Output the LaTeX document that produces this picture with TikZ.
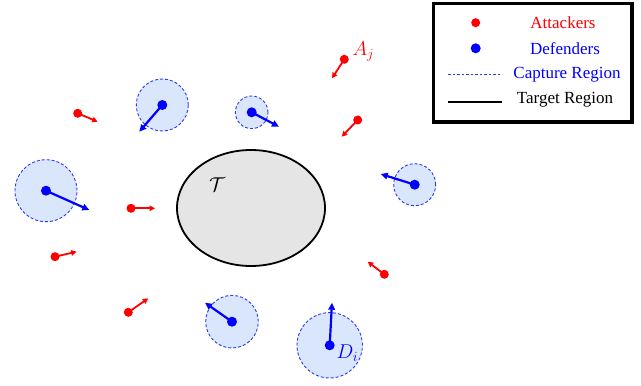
\RequirePackage{fix-cm}
\documentclass[tikz,border=0pt]{standalone}
\usepackage{fontspec}
\setmainfont{Liberation Serif}
\usetikzlibrary{arrows.meta,shapes.geometric}
\definecolor{capfill}{RGB}{218,230,252}
\definecolor{capline}{RGB}{40,60,240}
\begin{document}
\begin{tikzpicture}[x=1pt,y=-1pt,
  adot/.style={circle,fill=red,inner sep=0pt,minimum size=9pt},
  ddot/.style={circle,fill=blue,inner sep=0pt,minimum size=10pt},
  aarrow/.style={red,line width=1.8pt,-{Triangle[length=5.5pt,width=5.5pt]}},
  darrow/.style={blue,line width=2.2pt,-{Triangle[length=7pt,width=6.5pt]}},
  capture/.style={circle,draw=capline,fill=capfill,dash pattern=on 3pt off 2pt,line width=0.9pt,inner sep=0pt},
  lbl/.style={font=\fontsize{17}{20}\selectfont},
  mlbl/.style={font=\fontsize{20}{24}\selectfont}
]
\useasboundingbox (0,0) rectangle (641,386);
\fill[white] (0,0) rectangle (641,386);

% target
\node[draw=black,line width=1.8pt,fill=black!10,ellipse,minimum width=148pt,minimum height=116pt,inner sep=0pt] (tgt) at (251,208) {};
\node[mlbl] (tlab) at (217,185) {$\mathcal{T}$};

% capture regions
\node[capture,minimum size=52pt] (c1) at (162.3,105) {};
\node[capture,minimum size=62pt] (c2) at (46,190.7) {};
\node[capture,minimum size=32.6pt] (c3) at (251.7,112.3) {};
\node[capture,minimum size=42pt] (c4) at (414.7,184.7) {};
\node[capture,minimum size=52.6pt] (c5) at (232,321.7) {};
\node[capture,minimum size=65.4pt] (c6) at (329.7,345.3) {};

% defenders
\node[ddot] (d1) at (162.3,105) {};
\node[ddot] (d2) at (46,190.7) {};
\node[ddot] (d3) at (251.7,112.3) {};
\node[ddot] (d4) at (414.7,184.7) {};
\node[ddot] (d5) at (232,321.7) {};
\node[ddot] (d6) at (329.7,345.3) {};
\coordinate (d1t) at (139.3,131.7);
\coordinate (d2t) at (89.3,210);
\coordinate (d3t) at (279,126.7);
\coordinate (d4t) at (380.7,174);
\coordinate (d5t) at (205,302.7);
\coordinate (d6t) at (332,302.7);
\foreach \i in {1,...,6} \draw[darrow] (d\i.center) -- (d\i t);
\node[mlbl,blue,anchor=west] (dlab) at (333,353) {$D_i$};

% attackers
\node[adot] (a1) at (344.3,59.3) {};
\node[adot] (a2) at (357.7,120) {};
\node[adot] (a3) at (77.7,113.3) {};
\node[adot] (a4) at (131,208.3) {};
\node[adot] (a5) at (55,256.7) {};
\node[adot] (a6) at (128.3,312.3) {};
\node[adot] (a7) at (384.3,274.3) {};
\coordinate (a1t) at (332,78.3);
\coordinate (a2t) at (341.7,136.7);
\coordinate (a3t) at (97.7,121.7);
\coordinate (a4t) at (155,208.3);
\coordinate (a5t) at (76.7,251.7);
\coordinate (a6t) at (148.3,298.3);
\coordinate (a7t) at (367.7,261.7);
\foreach \i in {1,...,7} \draw[aarrow] (a\i.center) -- (a\i t);
\node[mlbl,red,anchor=west] (alab) at (349,52) {$A_j$};

% legend
\draw[line width=3.5pt] (433.5,3.5) rectangle (632,122);
\node[adot] (la) at (475.7,22.7) {};
\node[ddot] (ld) at (475.7,48.3) {};
\coordinate (lc1) at (448,74);
\coordinate (lc2) at (502,74);
\coordinate (lt1) at (448,101.7);
\coordinate (lt2) at (502,101.7);
\draw[capline,line width=0.8pt,dash pattern=on 2.5pt off 2pt] (lc1) -- (lc2);
\draw[black,line width=2pt] (lt1) -- (lt2);
\node[lbl,red] (lta) at (563,23) {Attackers};
\node[lbl,blue] (ltd) at (565,49) {Defenders};
\node[lbl,blue] (ltc) at (567,75) {Capture Region};
\node[lbl,black] (ltt) at (565,100) {Target Region};
\end{tikzpicture}
\end{document}
